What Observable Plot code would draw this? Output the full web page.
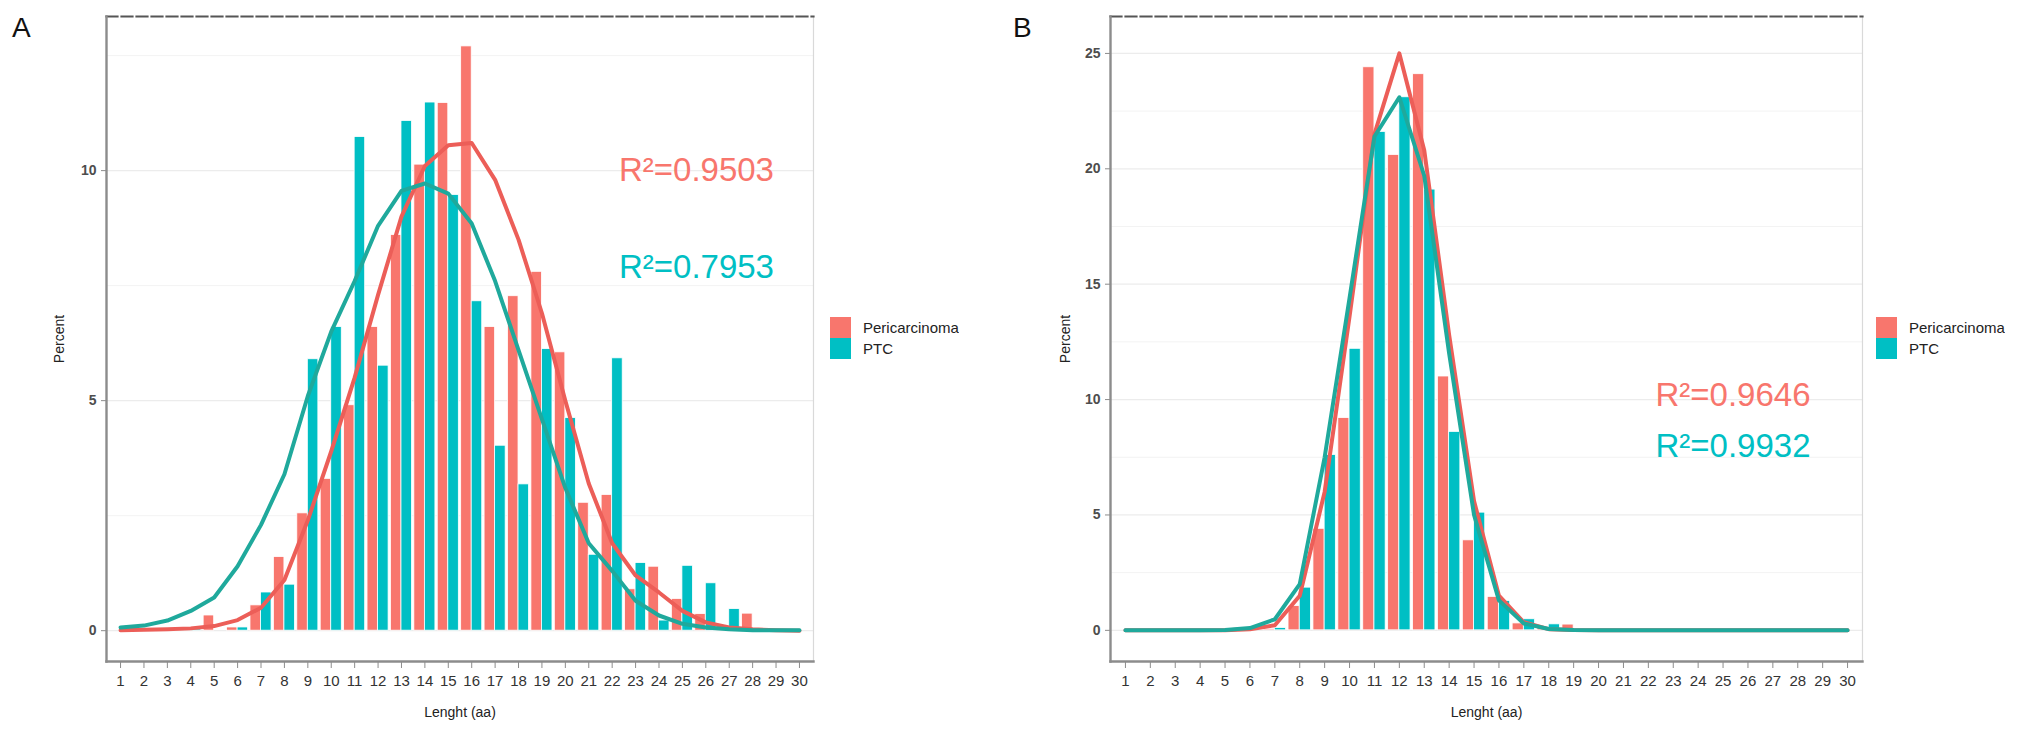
<!DOCTYPE html>
<html>
<head>
<meta charset="utf-8">
<script src="https://cdn.jsdelivr.net/npm/d3@7"></script>
<script src="https://cdn.jsdelivr.net/npm/@observablehq/plot@0.6"></script>
<style>
  html, body { margin: 0; padding: 0; background: #fff; }
  body { width: 2032px; height: 734px; position: relative; overflow: hidden; font-family: "Liberation Sans", Arial, sans-serif; }
  .panel { position: absolute; top: 0; }
  .tag { position: absolute; top: 12px; font-size: 28px; color: #111; z-index: 5; }
  .legend { position: absolute; top: 317px; z-index: 5; }
  .lg-swatch { padding-bottom: 0 !important; height: 21px; line-height: 21px; }
  .lg-swatch svg { margin-right: 12px !important; }
</style>
</head>
<body>
<div id="panel_a" class="panel" style="left:0px"></div>
<div id="panel_b" class="panel" style="left:1000px"></div>
<div class="tag" style="left:12px">A</div>
<div class="tag" style="left:1013px">B</div>
<div id="legend_a" class="legend" style="left:830px"></div>
<div id="legend_b" class="legend" style="left:1876px"></div>
<script>
"use strict";

// categories
const lengths = [1, 2, 3, 4, 5, 6, 7, 8, 9, 10, 11, 12, 13, 14, 15, 16, 17, 18, 19, 20, 21, 22, 23, 24, 25, 26, 27, 28, 29, 30]
const groups = ["Pericarcinoma", "PTC"]
const colors = ["#F8766D", "#00BFC4"]
const line_colors = ["#EC5E58", "#1FA99C"]

// panel A: percent of peptides by length
const peri_a = [0, 0, 0, 0, 0.33, 0.07, 0.55, 1.6, 2.55, 3.3, 4.9, 6.6, 8.6, 10.13, 11.47, 12.7, 6.6, 7.27, 7.8, 6.05, 2.78, 2.95, 0.9, 1.39, 0.69, 0.36, 0, 0.37, 0, 0]
const ptc_a = [0, 0, 0, 0.03, 0, 0.07, 0.83, 1.0, 5.9, 6.6, 10.73, 5.76, 11.08, 11.48, 9.47, 7.16, 4.02, 3.18, 6.12, 4.62, 1.65, 5.92, 1.47, 0.22, 1.41, 1.03, 0.47, 0, 0, 0]
const fit_peri_a = [0.01, 0.02, 0.03, 0.05, 0.1, 0.23, 0.5, 1.1, 2.4, 3.9, 5.5, 7.3, 9.0, 10.1, 10.55, 10.6, 9.8, 8.5, 6.9, 5.0, 3.2, 1.9, 1.2, 0.83, 0.43, 0.18, 0.07, 0.03, 0.01, 0]
const fit_ptc_a = [0.07, 0.11, 0.22, 0.43, 0.72, 1.4, 2.3, 3.4, 5.1, 6.5, 7.6, 8.8, 9.56, 9.72, 9.5, 8.85, 7.6, 6.1, 4.6, 3.1, 1.9, 1.3, 0.65, 0.33, 0.15, 0.07, 0.03, 0.01, 0.01, 0.01]

// panel B
const peri_b = [0, 0, 0, 0, 0, 0, 0.05, 1.05, 4.4, 9.2, 24.4, 20.6, 24.1, 11.0, 3.9, 1.45, 0.3, 0.1, 0.25, 0, 0, 0, 0, 0, 0, 0, 0, 0, 0, 0]
const ptc_b = [0, 0, 0, 0, 0, 0, 0.1, 1.85, 7.6, 12.2, 21.6, 23.1, 19.1, 8.6, 5.1, 1.27, 0.48, 0.26, 0.05, 0, 0, 0, 0, 0, 0, 0, 0, 0, 0, 0]
const fit_peri_b = [0, 0, 0, 0, 0, 0.05, 0.22, 1.5, 6.0, 13.6, 21.5, 25.0, 20.8, 12.8, 5.6, 1.5, 0.35, 0.05, 0.01, 0, 0, 0, 0, 0, 0, 0, 0, 0, 0, 0]
const fit_ptc_b = [0, 0, 0, 0, 0.02, 0.1, 0.48, 2.0, 7.5, 14.4, 21.4, 23.1, 19.7, 12.0, 5.0, 1.3, 0.3, 0.06, 0.01, 0, 0, 0, 0, 0, 0, 0, 0, 0, 0, 0]

// R squared labels (position in data units)
const r2_a = [
   {"label": "R²=0.9503", "x": 25.6, "y": 10.0, "group": "Pericarcinoma"},
   {"label": "R²=0.7953", "x": 25.6, "y": 7.9, "group": "PTC"}
]
const r2_b = [
   {"label": "R²=0.9646", "x": 25.4, "y": 10.2, "group": "Pericarcinoma"},
   {"label": "R²=0.9932", "x": 25.4, "y": 7.95, "group": "PTC"}
]

function long_bars(peri, ptc) {
   const rows = []
   lengths.forEach((len, i) => {
      rows.push({"len": len, "group": "Pericarcinoma", "pct": peri[i]})
      rows.push({"len": len, "group": "PTC", "pct": ptc[i]})
   })
   return rows
}

function long_fit(peri, ptc) {
   return [
      ...lengths.map((len, i) => ({"len": len, "group": "Pericarcinoma", "pct": peri[i]})),
      ...lengths.map((len, i) => ({"len": len, "group": "PTC", "pct": ptc[i]}))
   ]
}

function draw_panel(el, opts) {
   const bars = long_bars(opts.peri, opts.ptc)
   const fits = long_fit(opts.fit_peri, opts.fit_ptc)
   const half = 0.45

   const plot = Plot.plot({
      "width": opts.width,
      "height": 734,
      "marginLeft": opts.marginLeft,
      "marginRight": opts.marginRight,
      "marginTop": 16,
      "marginBottom": 73,
      "style": {"fontFamily": "Liberation Sans, Arial, sans-serif", "background": "white"},
      "x": {"domain": [0.4, 30.6], "ticks": lengths, "tickFormat": d => d},
      "y": {"domain": opts.ydomain, "ticks": opts.yticks},
      "color": {"domain": groups, "range": colors},
      "marks": [
         Plot.ruleY(opts.minor, {"stroke": "#f3f3f3", "strokeWidth": 1}),
         Plot.ruleY(opts.yticks, {"stroke": "#ececec", "strokeWidth": 1.2}),
         Plot.rectY(bars, {
            "x1": d => d.group == "Pericarcinoma" ? d.len - half : d.len,
            "x2": d => d.group == "Pericarcinoma" ? d.len : d.len + half,
            "y": "pct",
            "fill": "group",
            "stroke": "white",
            "strokeWidth": 0.8
         }),
         Plot.line(fits, {
            "x": "len",
            "y": "pct",
            "z": "group",
            "stroke": d => line_colors[groups.indexOf(d.group)],
            "strokeWidth": 4,
            "strokeLinejoin": "round",
            "strokeLinecap": "round"
         }),
         Plot.text(opts.r2, {
            "x": "x",
            "y": "y",
            "text": "label",
            "fill": "group",
            "fontSize": 33,
            "textAnchor": "middle"
         }),
         Plot.frame({"anchor": "right", "stroke": "#d9d9d9", "strokeWidth": 1.2}),
         Plot.frame({"anchor": "top", "stroke": "#555", "strokeWidth": 2.2, "strokeDasharray": "11,4"}),
         Plot.frame({"anchor": "left", "stroke": "#8c8c8c", "strokeWidth": 2.4}),
         Plot.frame({"anchor": "bottom", "stroke": "#8c8c8c", "strokeWidth": 2.4}),
         Plot.axisY({
            "ticks": opts.yticks,
            "tickSize": 5,
            "tickPadding": 5,
            "stroke": "#8c8c8c",
            "fill": "#4d4d4d",
            "fontSize": 14,
            "fontWeight": "bold",
            "label": "Percent",
            "labelAnchor": "center",
            "labelArrow": "none",
            "labelOffset": opts.labelOffset
         }),
         Plot.axisX({
            "ticks": lengths,
            "tickFormat": d => d,
            "tickSize": 7,
            "tickPadding": 7,
            "stroke": "#8c8c8c",
            "fill": "#333",
            "fontSize": 15,
            "label": "Lenght (aa)",
            "labelAnchor": "center",
            "labelArrow": "none",
            "labelOffset": 55
         })
      ]
   })

   // axis titles a little smaller than tick labels
   plot.querySelectorAll("[aria-label='y-axis label'] text, [aria-label='x-axis label'] text").forEach(t => {
      t.style.fontSize = "14px"
      t.style.fontWeight = "normal"
      t.setAttribute("fill", "#222")
   })

   el.append(plot)
}

function draw_legend(el) {
   const lg = Plot.legend({
      "color": {"domain": groups, "range": colors},
      "legend": "swatches",
      "columns": 1,
      "swatchSize": 21,
      "className": "lg",
      "style": {"fontFamily": "Liberation Sans, Arial, sans-serif", "fontSize": "15px", "color": "#222"}
   })
   el.append(lg)
}

draw_panel(document.querySelector("#panel_a"), {
   "width": 830,
   "marginLeft": 106,
   "marginRight": 17,
   "ydomain": [-0.67, 13.35],
   "yticks": [0, 5, 10],
   "minor": [2.5, 7.5, 12.5],
   "peri": peri_a,
   "ptc": ptc_a,
   "fit_peri": fit_peri_a,
   "fit_ptc": fit_ptc_a,
   "r2": r2_a,
   "labelOffset": 52
})

draw_panel(document.querySelector("#panel_b"), {
   "width": 880,
   "marginLeft": 110,
   "marginRight": 18,
   "ydomain": [-1.35, 26.6],
   "yticks": [0, 5, 10, 15, 20, 25],
   "minor": [2.5, 7.5, 12.5, 17.5, 22.5],
   "peri": peri_b,
   "ptc": ptc_b,
   "fit_peri": fit_peri_b,
   "fit_ptc": fit_ptc_b,
   "r2": r2_b,
   "labelOffset": 50
})

draw_legend(document.querySelector("#legend_a"))
draw_legend(document.querySelector("#legend_b"))
</script>
</body>
</html>
